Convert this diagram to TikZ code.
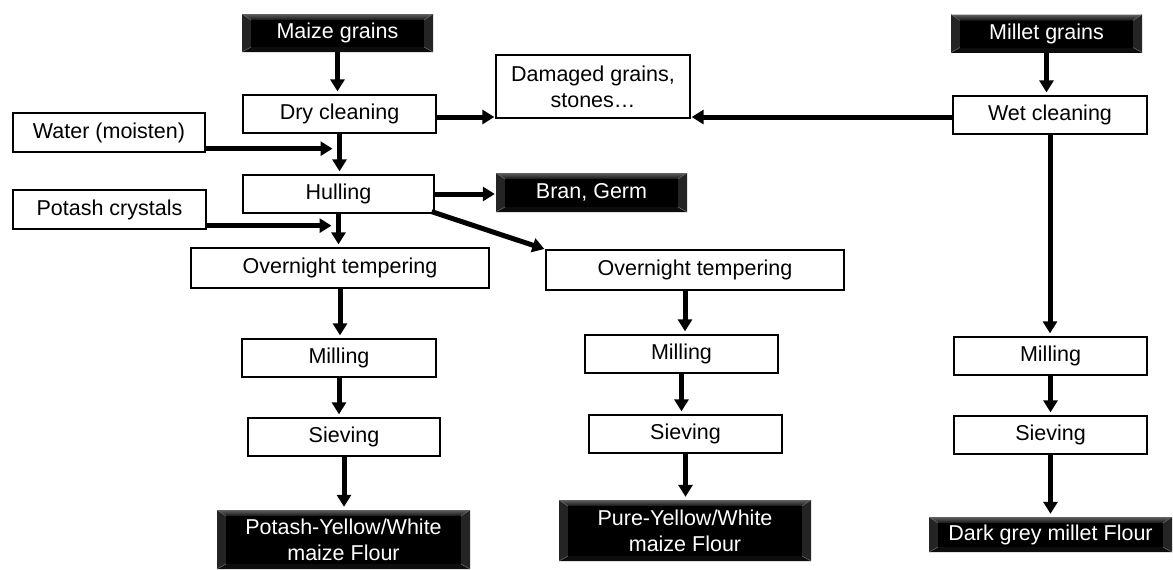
\documentclass[tikz,border=0pt]{standalone}
\usepackage{fontspec}
\setmainfont{Liberation Sans}
\usetikzlibrary{arrows.meta,shadows}

\tikzset{
  txt/.style={font=\fontsize{21.5}{26}\selectfont},
  wbox/.style={txt, draw, line width=1.3pt, fill=white, inner sep=0pt, align=center,
    general shadow={fill=black, shadow xshift=1.2pt, shadow yshift=-1.2pt}},
  bbox/.style={txt, fill=black, text=white, inner sep=0pt, align=center,
    path picture={
      \coordinate (NW) at (path picture bounding box.north west);
      \coordinate (NE) at (path picture bounding box.north east);
      \coordinate (SW) at (path picture bounding box.south west);
      \coordinate (SE) at (path picture bounding box.south east);
      \shade[top color=black!62, bottom color=black!92] (NW) -- (NE) -- ([shift={(-9pt,-6pt)}]NE) -- ([shift={(9pt,-6pt)}]NW) -- cycle;
      \fill[black!86] (NW) -- ([shift={(9pt,-6pt)}]NW) -- ([shift={(9pt,5pt)}]SW) -- (SW) -- cycle;
      \fill[black!86] (NE) -- ([shift={(-9pt,-6pt)}]NE) -- ([shift={(-9pt,5pt)}]SE) -- (SE) -- cycle;
      \fill[black!95] (SW) -- ([shift={(9pt,5pt)}]SW) -- ([shift={(-9pt,5pt)}]SE) -- (SE) -- cycle;
      \fill[black] ([shift={(9pt,-6pt)}]NW) rectangle ([shift={(-9pt,5pt)}]SE);
      \draw[black!55, line width=0.5pt] (NW) -- ([shift={(9pt,-6pt)}]NW) (NE) -- ([shift={(-9pt,-6pt)}]NE)
        (SW) -- ([shift={(9pt,5pt)}]SW) (SE) -- ([shift={(-9pt,5pt)}]SE);
    }},
  arr/.style={line width=5pt, -{Triangle[length=12pt,width=14pt]}, shorten >=3pt}
}

\begin{document}
\begin{tikzpicture}[x=1pt,y=-1pt]
\useasboundingbox[fill=white] (0,0) rectangle (1173,570);

% left column (maize)
\node[bbox, minimum width=191pt, minimum height=38pt] (maize) at (337.5,33) {Maize grains};
\node[wbox, minimum width=193pt, minimum height=38pt] (dry) at (339.5,114) {Dry cleaning};
\node[wbox, minimum width=194pt, minimum height=63pt] (damaged) at (593,86.5) {Damaged grains,\\stones…};
\node[wbox, minimum width=192pt, minimum height=39pt] (water) at (109,132.5) {Water (moisten)};
\node[wbox, minimum width=191pt, minimum height=38pt] (hull) at (338.5,194) {Hulling};
\node[bbox, minimum width=191pt, minimum height=39pt] (bran) at (591.5,192.5) {Bran, Germ};
\node[wbox, minimum width=193pt, minimum height=39pt] (potash) at (109.5,209.5) {Potash crystals};
\node[wbox, minimum width=298pt, minimum height=40pt] (ov1) at (340,268) {Overnight tempering};
\node[wbox, minimum width=194pt, minimum height=38pt] (mill1) at (339,358) {Milling};
\node[wbox, minimum width=192pt, minimum height=38pt] (siev1) at (344,437) {Sieving};
\node[bbox, minimum width=253pt, minimum height=59pt] (flour1) at (343.5,539.5) {Potash-Yellow/White\\maize Flour};

% middle column
\node[wbox, minimum width=298pt, minimum height=40pt] (ov2) at (695,270) {Overnight tempering};
\node[wbox, minimum width=193pt, minimum height=38pt] (mill2) at (681.5,354) {Milling};
\node[wbox, minimum width=193pt, minimum height=38pt] (siev2) at (685.5,434) {Sieving};
\node[bbox, minimum width=252pt, minimum height=61pt] (flour2) at (685,530.5) {Pure-Yellow/White\\maize Flour};

% right column (millet)
\node[bbox, minimum width=191pt, minimum height=38pt] (millet) at (1046.5,33.5) {Millet grains};
\node[wbox, minimum width=194pt, minimum height=38pt] (wet) at (1050,115) {Wet cleaning};
\node[wbox, minimum width=193pt, minimum height=38pt] (mill3) at (1050.5,356) {Milling};
\node[wbox, minimum width=193pt, minimum height=38pt] (siev3) at (1050.5,435) {Sieving};
\node[bbox, minimum width=243pt, minimum height=35pt] (dark) at (1050.5,534.5) {Dark grey millet Flour};

% connectors
\draw[arr] (maize.south) -- (maize.south |- dry.north);
\draw[arr] (dry.south) -- (dry.south |- hull.north);
\draw[arr] (hull.south) -- (hull.south |- ov1.north);
\draw[arr] (ov1.south) -- (ov1.south |- mill1.north);
\draw[arr] (mill1.south) -- (mill1.south |- siev1.north);
\draw[arr] (siev1.south) -- (siev1.south |- flour1.north);

\draw[arr, shorten >=7pt] ([yshift=4pt]water.south east) -- ([yshift=4pt]water.south east -| dry.south);
\draw[arr, shorten >=7pt] ([yshift=4pt]potash.south east) -- ([yshift=4pt]potash.south east -| hull.south);

\draw[arr, shorten >=1pt] ([yshift=-3pt]dry.east) -- ([yshift=-3pt]dry.east -| damaged.west);
\draw[arr, shorten >=1pt] (hull.east) -- (hull.east -| bran.west);
\draw[arr, shorten >=1pt] ([shift={(-3pt,2pt)}]hull.south east) -- (ov2.north west);

\draw[arr] ([xshift=-10pt]ov2.south) -- ([xshift=-10pt]ov2.south |- mill2.north);
\draw[arr] (mill2.south) -- (mill2.south |- siev2.north);
\draw[arr] (siev2.south) -- (siev2.south |- flour2.north);

\draw[arr] (millet.south) -- (millet.south |- wet.north);
\draw[arr, shorten >=1pt] ([yshift=-2pt]wet.west) -- ([yshift=-2pt]wet.west -| damaged.east);
\draw[arr] (wet.south) -- (wet.south |- mill3.north);
\draw[arr] (mill3.south) -- (mill3.south |- siev3.north);
\draw[arr] (siev3.south) -- (siev3.south |- dark.north);
\end{tikzpicture}
\end{document}
